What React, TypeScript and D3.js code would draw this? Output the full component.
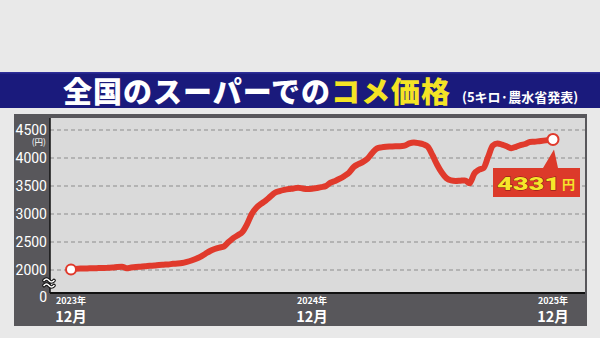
import React from "react";
import * as d3 from "d3";

const prices: number[] = [
  2010, 2020, 2025, 2025, 2030, 2030, 2035, 2035, 2040, 2045,
  2055, 2060, 2030, 2045, 2055, 2060, 2065, 2075, 2080, 2090,
  2095, 2100, 2110, 2115, 2125, 2145, 2170, 2200, 2240, 2290,
  2340, 2375, 2400, 2420, 2500, 2570, 2620, 2680, 2820, 3000,
  3110, 3180, 3240, 3310, 3380, 3410, 3430, 3445, 3455, 3470,
  3455, 3445, 3450, 3465, 3480, 3500, 3560, 3590, 3630, 3680,
  3740, 3840, 3890, 3930, 3990, 4090, 4170, 4190, 4200, 4205,
  4210, 4210, 4220, 4260, 4275, 4265, 4245, 4200, 4050, 3880,
  3740, 3640, 3600, 3590, 3595, 3600, 3550, 3720, 3790, 3820,
  4020, 4220, 4260, 4240, 4210, 4175, 4200, 4230, 4250, 4285,
  4290, 4300, 4310, 4320, 4331,
];

const yTicks: number[] = [2000, 2500, 3000, 3500, 4000, 4500];
const xTickIndex: number[] = [0, 52, 104];
const xTickYears: string[] = ["2023年", "2024年", "2025年"];
const xTickMonths: string[] = ["12月", "12月", "12月"];
const lastLabel = "4331";

const W = 600;
const H = 338;

export default function App() {
  const x = d3.scaleLinear().domain([0, 104]).range([71, 553]);
  const y = d3.scaleLinear().domain([2000, 4500]).range([270, 130]);
  const line = d3
    .line<number>()
    .x((_, i) => x(i))
    .y((d) => y(d))
    .curve(d3.curveMonotoneX);

  const plotL = 50, plotR = 585, plotT = 118, plotB = 293;
  const last = prices.length - 1;
  const red = "#e03a2c";
  const font = "Roboto, 'Noto Sans', sans-serif";
  const jp = "'Noto Sans CJK JP', 'Noto Sans', sans-serif";

  return (
    <svg width={W} height={H} style={{ position: "absolute", left: 0, top: 0 }}>
      <rect x={0} y={0} width={W} height={H} fill="#e9e9e9" />
      {/* title banner */}
      <rect x={0} y={72} width={W} height={36} fill="#1a1a7c" />
      <rect x={0} y={72} width={W} height={1.5} fill="#2e2e98" />
      <text x={63} y={102.5} fontFamily={jp} fontWeight={900} fontSize={29} letterSpacing={1} fill="#ffffff">
        全国のスーパーでの<tspan fill="#f4e425">コメ価格</tspan>
      </text>
      <text x={462} y={102} fontFamily={jp} fontWeight={700} fontSize={13} fill="#ffffff">
        (5キロ·農水省発表)
      </text>

      {/* chart panel */}
      <rect x={14} y={114} width={573} height={212} fill="#58575b" />
      <rect x={plotL} y={plotT} width={plotR - plotL} height={plotB - plotT} fill="#dadada" />

      {yTicks.map((t) => (
        <line key={"g" + t} x1={plotL} x2={plotR} y1={y(t)} y2={y(t)} stroke="#8c8c8c" strokeWidth={1} strokeDasharray="4,3" />
      ))}
      <line x1={plotL} x2={plotL} y1={plotT} y2={plotB} stroke="#111" strokeWidth={1.5} />
      <line x1={plotL} x2={plotR} y1={plotB} y2={plotB} stroke="#111" strokeWidth={2} />

      {yTicks.map((t) => (
        <text key={"t" + t} x={47} y={y(t)} dy="0.36em" textAnchor="end" fontFamily={font} fontSize={14} fill="#ffffff">
          {t}
        </text>
      ))}
      <text x={46} y={145} textAnchor="end" fontFamily={jp} fontSize={8.5} fill="#ffffff">(円)</text>
      <text x={47} y={297} dy="0.36em" textAnchor="end" fontFamily={font} fontSize={14} fill="#ffffff">0</text>

      {/* axis break symbol */}
      {[280.5, 285.5].map((yy, k) => (
        <g key={"b" + k}>
          <path d={`M44,${yy} q2.5,-3 5,0 t5,0`} fill="none" stroke="#111" strokeWidth={3.6} strokeLinecap="round" />
          <path d={`M44,${yy} q2.5,-3 5,0 t5,0`} fill="none" stroke="#ffffff" strokeWidth={1.6} strokeLinecap="round" />
        </g>
      ))}

      {xTickIndex.map((t, i) => (
        <g key={"x" + t}>
          <text x={x(t)} y={304} textAnchor="middle" fontFamily={jp} fontWeight={700} fontSize={9} fill="#ffffff">
            {xTickYears[i]}
          </text>
          <text x={x(t)} y={321.5} textAnchor="middle" fontFamily={jp} fontWeight={700} fontSize={14.5} fill="#ffffff">
            {xTickMonths[i]}
          </text>
        </g>
      ))}

      <path d={line(prices) || ""} fill="none" stroke={red} strokeWidth={6} strokeLinejoin="round" strokeLinecap="round" />
      <circle cx={x(0)} cy={y(prices[0])} r={5} fill="#ffffff" stroke={red} strokeWidth={2} />

      {/* callout */}
      <path
        d={`M493,168 H543 L${x(last) + 1},${y(prices[last]) + 10} L558,168 H580 V197 H493 Z`}
        fill="#dc3a2a"
      />
      <circle cx={x(last)} cy={y(prices[last])} r={5.5} fill="#ffffff" stroke={red} strokeWidth={2} />
      <text x={497} y={189.5} fontFamily={font} fontWeight={900} fontSize={19} textLength={63} lengthAdjust="spacingAndGlyphs"
        fill="#f6e62a" stroke="#7a1a10" strokeWidth={0.8} paintOrder="stroke">
        {lastLabel}
      </text>
      <text x={562} y={189} fontFamily={jp} fontWeight={700} fontSize={13} fill="#f6e62a">円</text>
    </svg>
  );
}
